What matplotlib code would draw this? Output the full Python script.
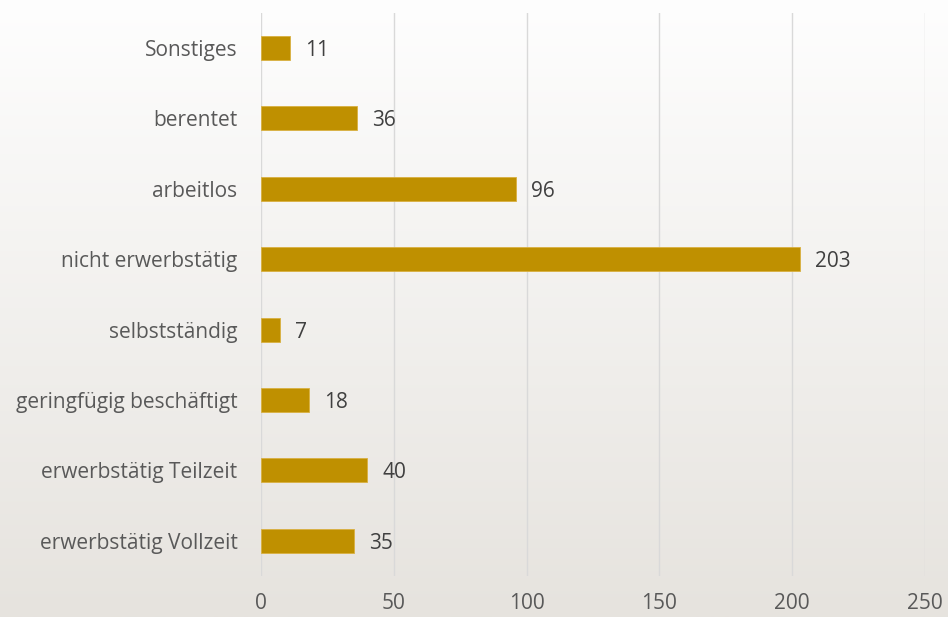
import numpy as np
import matplotlib
matplotlib.use("Agg")
import matplotlib.pyplot as plt

categories = ["erwerbstätig Vollzeit", "erwerbstätig Teilzeit", "geringfügig beschäftigt",
              "selbstständig", "nicht erwerbstätig", "arbeitlos", "berentet", "Sonstiges"]
values = [35, 40, 18, 7, 203, 96, 36, 11]
xticks = [0, 50, 100, 150, 200, 250]

plt.rcParams['font.family'] = ['Open Sans', 'DejaVu Sans']

fig = plt.figure(figsize=(9.48, 6.17), dpi=100)

# background gradient
bg = fig.add_axes([0, 0, 1, 1], zorder=-10)
top = np.array([0xFE, 0xFE, 0xFE]) / 255
bot = np.array([0xE6, 0xE3, 0xDE]) / 255
t = np.linspace(0, 1, 617)[:, None]
grad = top[None, :] * (1 - t) + bot[None, :] * t
bg.imshow(grad[:, None, :], aspect='auto', extent=[0, 1, 0, 1], origin='upper',
          interpolation='bilinear')
bg.set_axis_off()

ax = fig.add_axes([261/948, 1 - 576/617, (925-261)/948, (576-12.8)/617])
ax.set_facecolor('none')
y = np.arange(len(categories))
ax.barh(y, values, height=0.34, color='#BF9000', edgecolor='#D9B040', linewidth=0.6, zorder=3)
for yi, v in zip(y, values):
    ax.annotate(str(v), (v, yi), xytext=(11, 0), textcoords='offset points',
                ha='left', va='center_baseline', fontsize=15, color='#404040')
ax.set_xlim(0, 250)
ax.set_ylim(-0.5, len(categories) - 0.5)
ax.set_xticks(xticks)
ax.set_xticklabels([str(x) for x in xticks])
ax.set_yticks(y)
ax.set_yticklabels(categories)
ax.tick_params(axis='x', length=0, pad=12, labelsize=15, labelcolor='#595959')
ax.tick_params(axis='y', length=0, pad=17, labelsize=15, labelcolor='#595959')
ax.grid(axis='x', color='#D9D9D9', linewidth=1, zorder=0)
ax.set_axisbelow(True)
for s in ax.spines.values():
    s.set_visible(False)

fig.savefig('out.png', dpi=100)
